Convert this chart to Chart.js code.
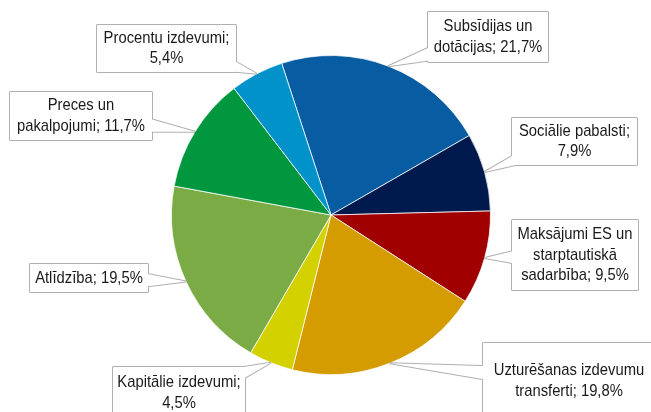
<!DOCTYPE html>
<html>
<head>
<meta charset="utf-8">
<script src="https://cdn.jsdelivr.net/npm/chart.js@4/dist/chart.umd.min.js"></script>
<style>
    html, body { margin: 0; padding: 0; background: #ffffff; }
    canvas { display: block; }
</style>
</head>
<body>
<canvas id="chart" width="651" height="412"></canvas>
<script>
// Dati
const categories = [
    'Subsīdijas un dotācijas',
    'Sociālie pabalsti',
    'Maksājumi ES un starptautiskā sadarbība',
    'Uzturēšanas izdevumu transferti',
    'Kapitālie izdevumi',
    'Atlīdzība',
    'Preces un pakalpojumi',
    'Procentu izdevumi'
];
const shares = [21.7, 7.9, 9.5, 19.8, 4.5, 19.5, 11.7, 5.4];
const colors = ['#075ca2', '#001a4e', '#a00000', '#d49c00', '#d4d100', '#7aab45', '#00973f', '#0092c8'];

// Etiķešu rāmji (x, y, platums, augstums)
const labelBoxes = [
    [428, 12, 120, 50],
    [512, 118, 125, 47],
    [512, 220, 126, 70],
    [483, 343, 172, 76],
    [113, 367, 132, 52],
    [30, 264, 118, 28],
    [10, 92, 142, 48],
    [97, 25, 139, 47]
];

const FONT = '17px "Liberation Sans", Arial, sans-serif';
const SCALE_X = 0.87;
const LINE_H = 20.5;

function labelText(i) {
    return categories[i] + '; ' + shares[i].toFixed(1).replace('.', ',') + '%';
}

// Vārdu aplaušana pēc rāmja platuma
function wrap(ctx, text, maxW) {
    const words = text.split(' ');
    const lines = [];
    let cur = '';
    words.forEach(w => {
        const test = cur ? cur + ' ' + w : w;
        if (cur && ctx.measureText(test).width * SCALE_X > maxW) {
            lines.push(cur);
            cur = w;
        } else {
            cur = test;
        }
    });
    if (cur) lines.push(cur);
    return lines;
}

const clamp = (v, a, b) => Math.max(a, Math.min(b, v));

const calloutPlugin = {
    id: 'callouts',
    afterDatasetsDraw(chart) {
        const ctx = chart.ctx;
        const meta = chart.getDatasetMeta(0);
        ctx.save();
        ctx.font = FONT;
        meta.data.forEach((arc, i) => {
            const p = arc.getProps(['x', 'y', 'startAngle', 'endAngle', 'outerRadius'], true);
            const mid = (p.startAngle + p.endAngle) / 2;
            const tx = p.x + Math.cos(mid) * p.outerRadius;
            const ty = p.y + Math.sin(mid) * p.outerRadius;
            const [bx, by, bw, bh] = labelBoxes[i];
            const cx = bx + bw / 2, cy = by + bh / 2;
            const dx = tx - cx, dy = ty - cy;
            const len = Math.hypot(dx, dy);
            const ux = dx / len, uy = dy / len;
            const t = Math.min(dx ? (bw / 2) / Math.abs(dx) : Infinity, dy ? (bh / 2) / Math.abs(dy) : Infinity);
            let tri = null;
            if (t < 1) {
                // pamats nedaudz rāmja iekšpusē, pie izejas punkta
                const ex = cx + dx * t - ux * 6, ey = cy + dy * t - uy * 6;
                const hw = 7;
                const nx = -uy, ny = ux;
                const a = [clamp(ex + nx * hw, bx + 1, bx + bw - 1), clamp(ey + ny * hw, by + 1, by + bh - 1)];
                const b = [clamp(ex - nx * hw, bx + 1, bx + bw - 1), clamp(ey - ny * hw, by + 1, by + bh - 1)];
                tri = [[tx, ty], a, b];
            }
            const triPath = () => {
                ctx.moveTo(tri[0][0], tri[0][1]);
                ctx.lineTo(tri[1][0], tri[1][1]);
                ctx.lineTo(tri[2][0], tri[2][1]);
                ctx.closePath();
            };
            // rāmis: plata līnija, tad balts aizpildījums virsū
            ctx.lineWidth = 2;
            ctx.strokeStyle = '#b0b0b0';
            ctx.lineJoin = 'bevel';
            ctx.beginPath();
            ctx.rect(bx, by, bw, bh);
            if (tri) triPath();
            ctx.stroke();
            ctx.fillStyle = '#ffffff';
            ctx.beginPath();
            ctx.rect(bx, by, bw, bh);
            ctx.fill();
            if (tri) {
                ctx.beginPath();
                triPath();
                ctx.fill();
            }
            // teksts
            const lines = wrap(ctx, labelText(i), bw - 2);
            ctx.fillStyle = '#1a1a1a';
            ctx.textAlign = 'center';
            ctx.textBaseline = 'middle';
            const top = cy - (lines.length * LINE_H) / 2 + LINE_H / 2;
            lines.forEach((ln, k) => {
                ctx.save();
                ctx.translate(cx, top + k * LINE_H);
                ctx.scale(SCALE_X, 1);
                ctx.fillText(ln, 0, 0);
                ctx.restore();
            });
        });
        ctx.restore();
    }
};

new Chart(document.getElementById('chart'), {
    type: 'pie',
    data: {
        labels: categories,
        datasets: [{
            data: shares,
            backgroundColor: colors,
            borderColor: 'rgba(255,255,255,0.75)',
            borderWidth: 1
        }]
    },
    options: {
        responsive: false,
        animation: false,
        rotation: -18,
        layout: {
            padding: { left: 171, right: 160, top: 55, bottom: 37 }
        },
        plugins: {
            legend: { display: false },
            tooltip: { enabled: false }
        }
    },
    plugins: [calloutPlugin]
});
</script>
</body>
</html>
